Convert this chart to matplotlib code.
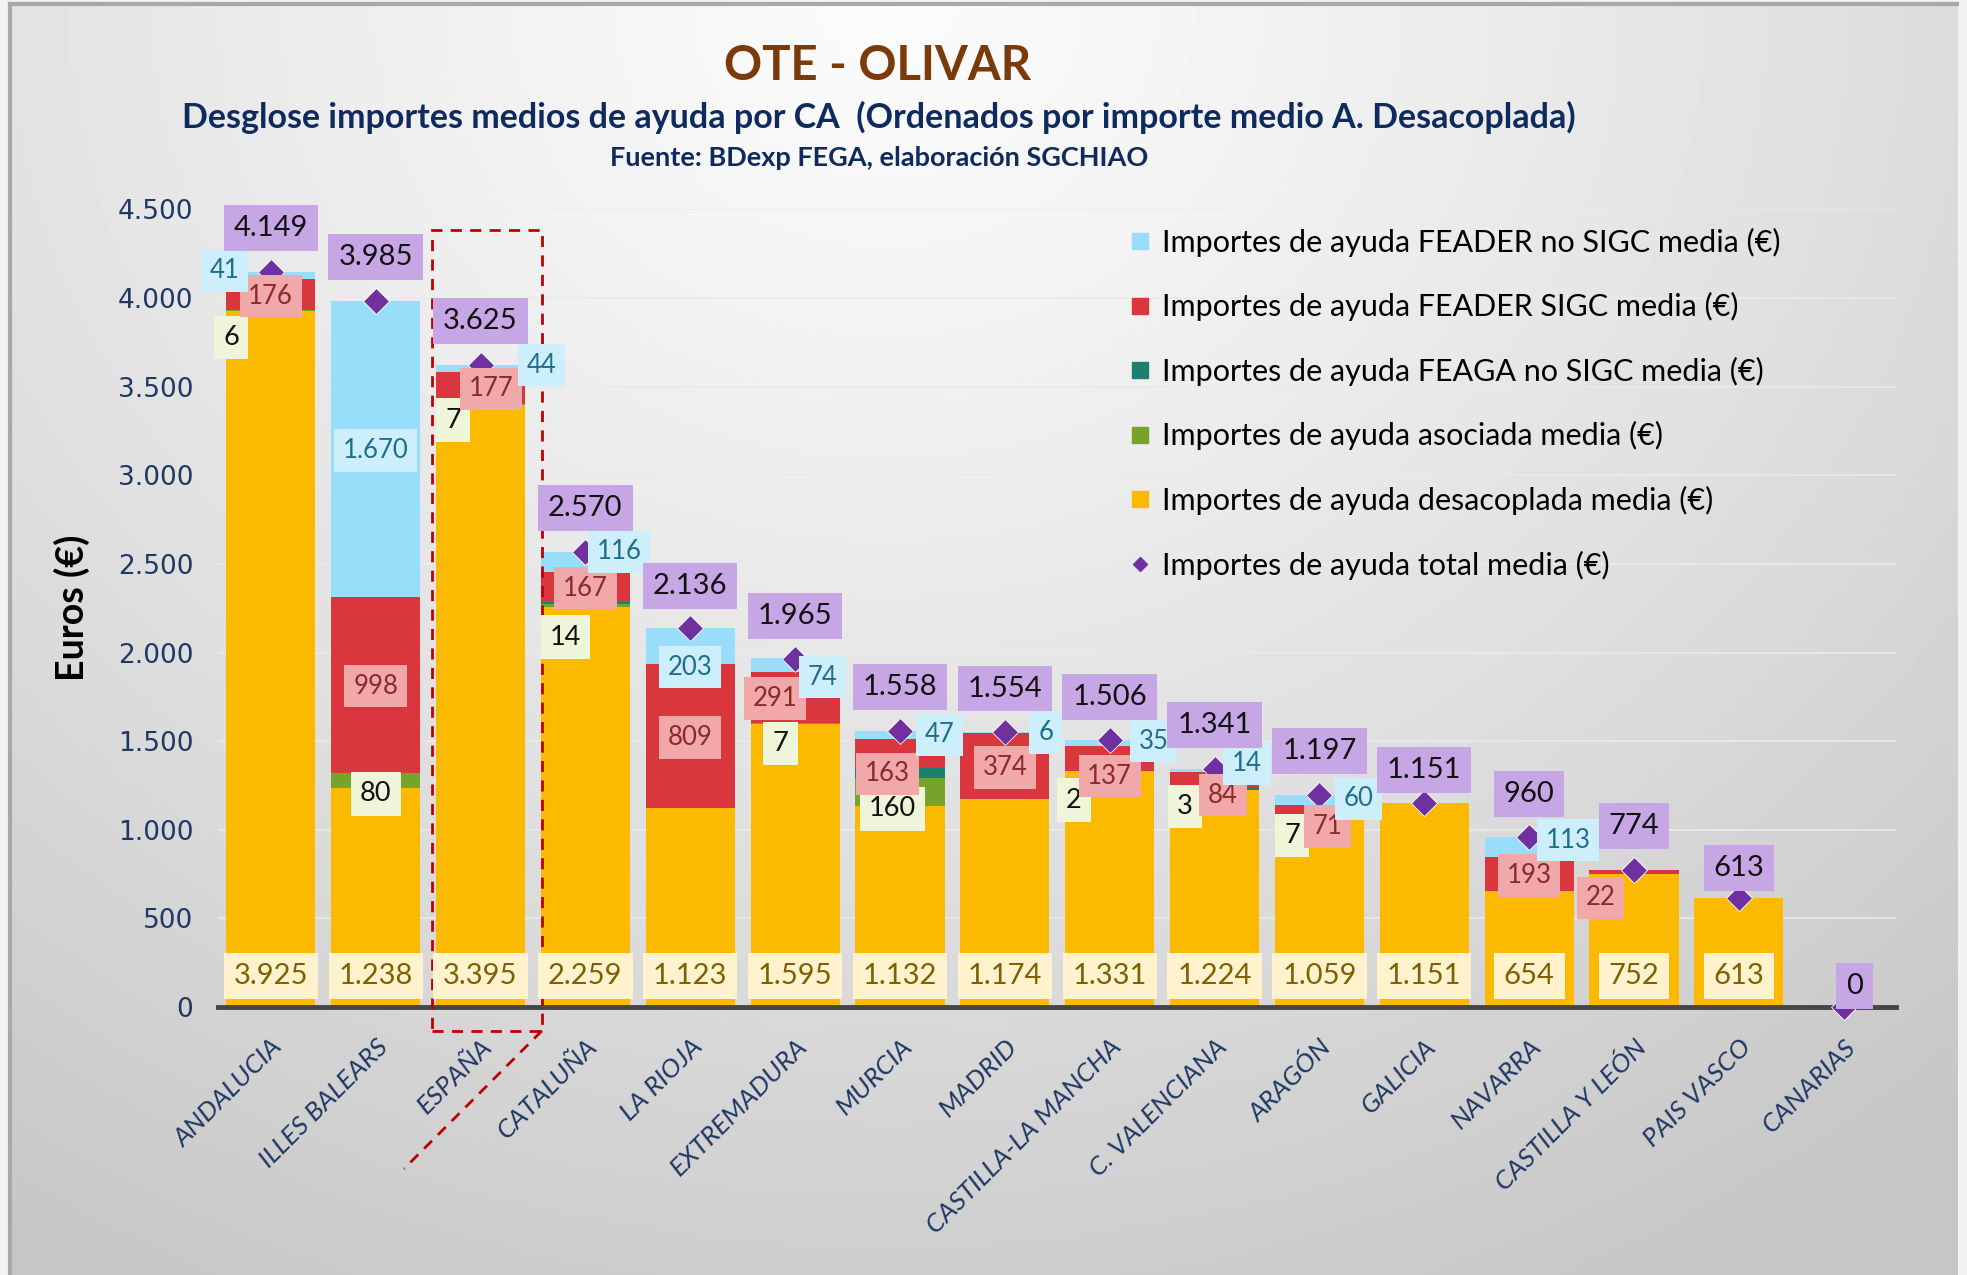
import matplotlib
matplotlib.use("Agg")
import matplotlib.pyplot as plt
import numpy as np
from matplotlib.lines import Line2D
from matplotlib.patches import Rectangle

# ---- data -------------------------------------------------------------
regiones = ["ANDALUCIA", "ILLES BALEARS", "ESPAÑA", "CATALUÑA", "LA RIOJA",
            "EXTREMADURA", "MURCIA", "MADRID", "CASTILLA-LA MANCHA",
            "C. VALENCIANA", "ARAGÓN", "GALICIA", "NAVARRA",
            "CASTILLA Y LEÓN", "PAIS VASCO", "CANARIAS"]
desacoplada = [3925, 1238, 3395, 2259, 1123, 1595, 1132, 1174, 1331, 1224, 1059, 1151, 654, 752, 613, 0]
asociada = [6, 80, 7, 14, 0, 7, 160, 0, 2, 3, 7, 0, 0, 0, 0, 0]
feaga_no_sigc = [1, 0, 2, 14, 1, 0, 56, 0, 1, 16, 0, 0, 0, 0, 0, 0]
feader_sigc = [176, 998, 177, 167, 809, 291, 163, 374, 137, 84, 71, 0, 193, 22, 0, 0]
feader_no_sigc = [41, 1670, 44, 116, 203, 74, 47, 6, 35, 14, 60, 0, 113, 0, 0, 0]
total = [4149, 3985, 3625, 2570, 2136, 1965, 1558, 1554, 1506, 1341, 1197, 1151, 960, 774, 613, 0]

# ---- manual label placement (dx in categories, y in euros), as in the Excel chart
pos_total = [(0, 4394), (0, 4231), (0, 3870), (0, 2816), (0, 2377), (0, 2207), (0, 1804),
             (0, 1797), (0, 1748), (0, 1592), (0, 1443), (0, 1337), (0, 1203), (0, 1019),
             (0, 785), (0.1, 120)]
pos_fns = [(-0.44, 4153), (0, 3141), (0.58, 3622), (0.32, 2568), (0, 1917), (0.26, 1861),
           (0.38, 1535), (0.39, 1549), (0.42, 1500), (0.31, 1373), (0.37, 1174), None,
           (0.37, 941), None, None, None]
pos_fs = [(0, 4011), (0, 1811), (0.1, 3488), (0, 2363), (0, 1521), (-0.19, 1740),
          (-0.12, 1316), (0, 1351), (0, 1302), (0.08, 1196), (0.08, 1019), None,
          (0, 743), (-0.32, 616), None, None]
pos_aso = [(-0.38, 3778), (0, 1203), (-0.26, 3311), (-0.19, 2087), None, (-0.14, 1486),
           (-0.07, 1118), None, (-0.34, 1167), (-0.28, 1132), (-0.26, 969), None,
           None, None, None, None]
y_desac_lbl = 177

c_desac = "#FBBA00"
c_aso = "#76A42A"
c_feaga = "#1B8070"
c_fs = "#D9363E"
c_fns = "#98DEFB"
c_tot = "#7030A0"
navy = "#1F3864"

FONT = ["Lato", "DejaVu Sans"]


def fmt(v):
    return f"{v:,}".replace(",", ".")


fig = plt.figure(figsize=(19.67, 12.75), dpi=100)
fig.patch.set_facecolor("#F2F2F2")

# slide-like gradient background
bg = fig.add_axes([0.005, 0.0, 0.99, 0.997], zorder=-10)
yy, xx = np.mgrid[0:1:300j, 0:1:460j]
d = np.sqrt(((xx - 0.45) / 0.85) ** 2 + (yy / 1.15) ** 2)
shade = 0.985 - 0.21 * np.clip(d, 0, 1) ** 1.2
bg.imshow(shade, cmap="gray", vmin=0, vmax=1, aspect="auto", extent=(0, 1, 0, 1))
bg.set_xticks([])
bg.set_yticks([])
for s in ["right", "bottom"]:
    bg.spines[s].set_visible(False)
for s in ["left", "top"]:
    bg.spines[s].set_color("#A8A8A8")
    bg.spines[s].set_linewidth(3)

ax = fig.add_axes([0.111, 0.2102, 0.853, 0.6255])
ax.set_facecolor("none")

x = np.arange(len(regiones))
w = 0.85
b = np.zeros(len(x))
for vals, col in [(desacoplada, c_desac), (asociada, c_aso), (feaga_no_sigc, c_feaga),
                  (feader_sigc, c_fs), (feader_no_sigc, c_fns)]:
    ax.bar(x, vals, w, bottom=b, color=col, zorder=2)
    b += np.array(vals)

ax.plot(x, total, ls="none", marker="D", ms=13, color=c_tot, mec="white", mew=0.6,
        zorder=4, clip_on=False)

ax.set_xlim(-0.5, 15.5)
ax.set_ylim(0, 4500)
ax.set_yticks(np.arange(0, 4501, 500))
ax.set_yticklabels([fmt(v) for v in range(0, 4501, 500)], fontsize=19, color=navy,
                   family="DejaVu Sans")
ax.tick_params(axis="y", length=0, pad=18)
ax.grid(axis="y", color="#EAEAEA", lw=1.2, zorder=0)
for s in ["left", "right", "top"]:
    ax.spines[s].set_visible(False)
ax.spines["bottom"].set_color("#454545")
ax.spines["bottom"].set_linewidth(3.5)
ax.spines["bottom"].set_zorder(3)

ax.set_xticks(x)
ax.set_xticklabels(regiones, rotation=45, ha="right", va="top", rotation_mode="anchor",
                   fontsize=19, style="italic", color=navy, family=FONT)
ax.tick_params(axis="x", length=0, pad=20)

ax.set_ylabel("Euros (€)", fontsize=27, fontweight="bold", family=FONT, labelpad=20)


def box_label(xp, yp, txt, fc, tc, size):
    ax.text(xp, yp, txt, ha="center", va="center", fontsize=size, color=tc, family=FONT,
            zorder=6, clip_on=False,
            bbox=dict(boxstyle="square,pad=0.34", fc=fc, ec="none"))


for i in x:
    if desacoplada[i] > 0:
        box_label(i, y_desac_lbl, fmt(desacoplada[i]), "#FFF2CC", "#7F6000", 21)
    for pos, vals, fc, tc, sz in [(pos_aso, asociada, "#EEF5D8", "#111111", 19.5),
                                  (pos_fs, feader_sigc, "#F0A8A8", "#8B2A2A", 18.5),
                                  (pos_fns, feader_no_sigc, "#CDEFFB", "#1F6E8C", 18.5)]:
        if pos[i] is not None and vals[i] > 0:
            box_label(i + pos[i][0], pos[i][1], fmt(vals[i]), fc, tc, sz)
    box_label(i + pos_total[i][0], pos_total[i][1], fmt(total[i]), "#C7A6E6", "#111111", 21)

# highlight of the national average
ie = regiones.index("ESPAÑA")
ax.add_patch(Rectangle((ie - 0.467, -134), 1.053, 4521, fill=False, ec="#C00000", lw=2,
                       ls=(0, (4, 3)), zorder=5, clip_on=False))
ax.plot([ie + 0.586, ie - 0.73], [-134, -913], color="#C00000", lw=2, ls=(0, (4, 3)),
        clip_on=False, zorder=5)

# titles
fig.text(0.446, 0.948, "OTE - OLIVAR", ha="center", va="center", fontsize=34,
         fontweight="bold", color="#7B3A0A", family=FONT)
fig.text(0.447, 0.908, "Desglose importes medios de ayuda por CA  (Ordenados por importe medio A. Desacoplada)",
         ha="center", va="center", fontsize=24.5, fontweight="bold", color="#0E2A5E", family=FONT)
fig.text(0.447, 0.876, "Fuente: BDexp FEGA, elaboración SGCHIAO", ha="center", va="center",
         fontsize=19.5, fontweight="bold", color="#0E2A5E", family=FONT)

# legend
handles = [Line2D([], [], ls="none", marker="s", ms=12, color=c) for c in
           [c_fns, c_fs, c_feaga, c_aso, c_desac]]
handles.append(Line2D([], [], ls="none", marker="D", ms=7, color=c_tot))
labels = ["Importes de ayuda FEADER no SIGC media (€)",
          "Importes de ayuda FEADER SIGC media (€)",
          "Importes de ayuda FEAGA no SIGC media (€)",
          "Importes de ayuda asociada media (€)",
          "Importes de ayuda desacoplada media (€)",
          "Importes de ayuda total media (€)"]
fig.legend(handles, labels, loc="upper left", bbox_to_anchor=(0.568, 0.831),
           frameon=False, prop={"family": FONT, "size": 22}, labelspacing=1.16,
           handlelength=0.7, handletextpad=0.35, borderaxespad=0)

fig.savefig("out.png", dpi=100)
